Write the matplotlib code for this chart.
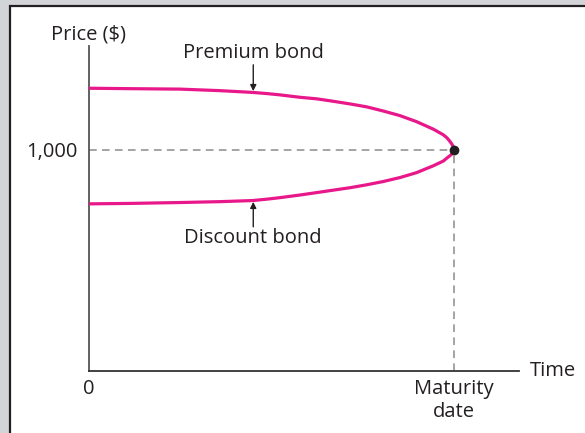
import matplotlib
matplotlib.use('Agg')
import matplotlib.pyplot as plt
from matplotlib.patches import Rectangle

plt.rcParams['font.family'] = ['Open Sans', 'DejaVu Sans']

# values (time in years, maturity = 10; price in $)
time = [0, 1.12, 2.49, 3.59, 4.49, 4.86, 5.23, 5.78, 6.24, 6.69, 7.15,
        7.60, 8.06, 8.52, 8.97, 9.43, 9.71, 9.81, 9.89, 9.93, 9.99, 10]
premium = [1279, 1277, 1275, 1268, 1260, 1255, 1249, 1238, 1231, 1220, 1208,
           1195, 1176, 1155, 1128, 1094, 1068, 1054, 1038, 1029, 1011, 1000]
discount = [756, 758, 762, 766, 771, 777, 784, 796, 807, 818, 829,
            842, 857, 875, 897, 928, 950, 964, 974, 980, 992, 1000]
face_value = 1000
maturity = 10
y_ticks = [1000]
y_tick_labels = ['1,000']
x_ticks = [0, maturity]
x_tick_labels = ['0', 'Maturity\ndate']

pink = '#e8178a'
ink = '#231f20'
fs = 14.5

fig = plt.figure(figsize=(5.85, 4.33), dpi=100)
fig.patch.set_facecolor('#d3d4d8')
# white panel with a dark edge
fig.patches.append(Rectangle((10 / 585, -0.1), 1.0, 1.1 - 6 / 433, transform=fig.transFigure,
                             facecolor='white', edgecolor=ink, linewidth=1.6, zorder=-10))

ax = fig.add_axes([89 / 585, 62 / 433, 430 / 585, 325 / 433])
ax.set_facecolor('none')
ax.set_xlim(0, 11.78)
ax.set_ylim(0, 1470)

ax.plot(time, premium, color=pink, linewidth=2.3, solid_capstyle='round',
        solid_joinstyle='round', zorder=3)
ax.plot(time, discount, color=pink, linewidth=2.3, solid_capstyle='round',
        solid_joinstyle='round', zorder=3)

ax.plot([0, maturity], [face_value, face_value], color='#8c8c8c', linewidth=1.1,
        dashes=(5, 3.5), zorder=2)
ax.plot([maturity, maturity], [0, face_value], color='#8c8c8c', linewidth=1.1,
        dashes=(5, 3.5), zorder=2)
ax.plot([maturity], [face_value], 'o', color=ink, markersize=6, zorder=4)

for s in ['top', 'right']:
    ax.spines[s].set_visible(False)
ax.spines['left'].set_color('#555555')
ax.spines['bottom'].set_color('#333333')
ax.spines['left'].set_linewidth(1.3)
ax.spines['bottom'].set_linewidth(1.3)

ax.set_yticks(y_ticks)
ax.set_yticklabels(y_tick_labels)
ax.set_xticks(x_ticks)
ax.set_xticklabels(x_tick_labels, va='top')
ax.tick_params(axis='y', length=0, pad=8, labelsize=fs, labelcolor=ink)
ax.tick_params(axis='x', length=0, pad=6, labelsize=fs, labelcolor=ink)

ax.text(0, 1470 + 6, 'Price ($)', fontsize=fs, color=ink, ha='center', va='bottom')
ax.text(11.78 + 0.3, 0, 'Time', fontsize=fs, color=ink, ha='left', va='center')

# labels with small arrows pointing at the curves
ax.text(4.5, 1437, 'Premium bond', fontsize=fs, color=ink, ha='center', va='center')
ax.annotate('', xy=(4.5, 1266), xytext=(4.5, 1385),
            arrowprops=dict(arrowstyle='-|>', color=ink, lw=1.0, mutation_scale=9,
                            shrinkA=0, shrinkB=0))
ax.text(4.5, 600, 'Discount bond', fontsize=fs, color=ink, ha='center', va='center')
ax.annotate('', xy=(4.5, 765), xytext=(4.5, 652),
            arrowprops=dict(arrowstyle='-|>', color=ink, lw=1.0, mutation_scale=9,
                            shrinkA=0, shrinkB=0))

fig.savefig('out.png', dpi=100, facecolor=fig.get_facecolor())
